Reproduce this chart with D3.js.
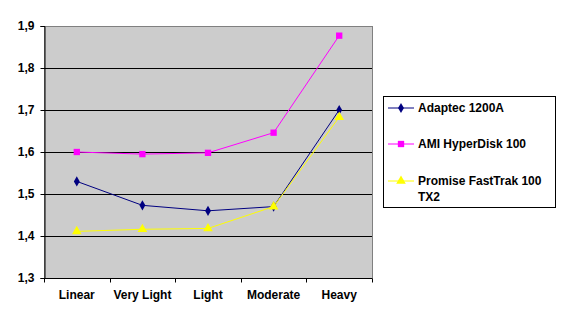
<!DOCTYPE html>
<html>
<head>
<meta charset="utf-8">
<script src="https://d3js.org/d3.v7.min.js"></script>
<style>
  body { margin: 0; background: #fff; }
  text { font-family: "Liberation Sans", Arial, sans-serif; font-weight: bold; font-size: 12px; fill: #000; }
</style>
</head>
<body>
<script>
// chart data
var categories = ["Linear", "Very Light", "Light", "Moderate", "Heavy"];
var adaptec = [1.530, 1.473, 1.460, 1.470, 1.700];
var ami = [1.600, 1.595, 1.598, 1.646, 1.877];
var promise = [1.411, 1.416, 1.418, 1.470, 1.683];
var yTicks = [1.3, 1.4, 1.5, 1.6, 1.7, 1.8, 1.9];

var series = [
  { name: ["Adaptec 1200A"], values: adaptec, color: "#000080", marker: "diamond" },
  { name: ["AMI HyperDisk 100"], values: ami, color: "#ff00ff", marker: "square" },
  { name: ["Promise FastTrak 100", "TX2"], values: promise, color: "#ffff00", marker: "triangle" }
];

var W = 566, H = 320;
var plotL = 44, plotT = 26, plotR = 372, plotB = 278;

var svg = d3.select("body").append("svg")
  .attr("width", W).attr("height", H);

var x = d3.scaleBand().domain(categories).range([plotL, plotR]);
var y = d3.scaleLinear().domain([1.3, 1.9]).range([plotB, plotT]);

// plot area
svg.append("rect")
  .attr("x", plotL + 0.5).attr("y", plotT + 0.5)
  .attr("width", plotR - plotL).attr("height", plotB - plotT)
  .attr("fill", "#cccccc").attr("stroke", "#808080");

// gridlines
svg.selectAll(".grid").data(yTicks.slice(1, -1)).enter().append("line")
  .attr("x1", plotL).attr("x2", plotR)
  .attr("y1", function(d) { return Math.round(y(d)) + 0.5; })
  .attr("y2", function(d) { return Math.round(y(d)) + 0.5; })
  .attr("stroke", "#000");

// y axis
var yAxis = d3.axisLeft(y).tickValues(yTicks).tickSize(4).tickPadding(6)
  .tickFormat(function(d) { return d3.format(".1f")(d).replace(".", ","); });
svg.append("g").attr("transform", "translate(" + (plotL + 0.5) + ",0)").call(yAxis)
  .call(function(g) {
    g.select(".domain").attr("stroke", "#000");
    g.selectAll("line").attr("stroke", "#000");
    g.selectAll("text").style("font-size", "12px").attr("fill", "#000");
  });

// x axis
var xg = svg.append("g").attr("transform", "translate(0," + (plotB + 0.5) + ")");
xg.append("line").attr("x1", plotL).attr("x2", plotR).attr("stroke", "#000");
var bounds = categories.map(function(c) { return x(c); }).concat([plotR]);
xg.selectAll(".xt").data(bounds).enter().append("line")
  .attr("x1", function(d) { return Math.round(d) + 0.5; })
  .attr("x2", function(d) { return Math.round(d) + 0.5; })
  .attr("y1", 0).attr("y2", 4).attr("stroke", "#000");
xg.selectAll(".xl").data(categories).enter().append("text")
  .attr("x", function(d) { return x(d) + x.bandwidth() / 2; })
  .attr("y", 20)
  .attr("text-anchor", "middle")
  .text(function(d) { return d; });

// lines and markers
var line = d3.line()
  .x(function(d, i) { return x(categories[i]) + x.bandwidth() / 2; })
  .y(function(d) { return y(d); });

function symbolFor(m) {
  if (m === "diamond") return d3.symbol().type(d3.symbolDiamond).size(30);
  if (m === "square") return d3.symbol().type(d3.symbolSquare).size(40);
  return d3.symbol().type(d3.symbolTriangle).size(40);
}

series.forEach(function(s) {
  svg.append("path").datum(s.values)
    .attr("d", line).attr("fill", "none")
    .attr("stroke", s.color).attr("stroke-width", 1);
  svg.selectAll(null).data(s.values).enter().append("path")
    .attr("d", symbolFor(s.marker)())
    .attr("transform", function(d, i) {
      return "translate(" + (x(categories[i]) + x.bandwidth() / 2) + "," + y(d) + ")";
    })
    .attr("fill", s.color);
});

// legend
var lg = svg.append("g");
lg.append("rect").attr("x", 383.5).attr("y", 96.5).attr("width", 172).attr("height", 111)
  .attr("fill", "#fff").attr("stroke", "#000");
var rows = [108, 144, 181];
series.forEach(function(s, i) {
  var cy = rows[i];
  lg.append("line").attr("x1", 388).attr("x2", 414).attr("y1", cy).attr("y2", cy)
    .attr("stroke", s.color);
  lg.append("path").attr("d", symbolFor(s.marker)())
    .attr("transform", "translate(401," + cy + ")").attr("fill", s.color);
  s.name.forEach(function(t, j) {
    lg.append("text").attr("x", 418).attr("y", cy + 4 + j * 16).text(t);
  });
});
</script>
</body>
</html>
